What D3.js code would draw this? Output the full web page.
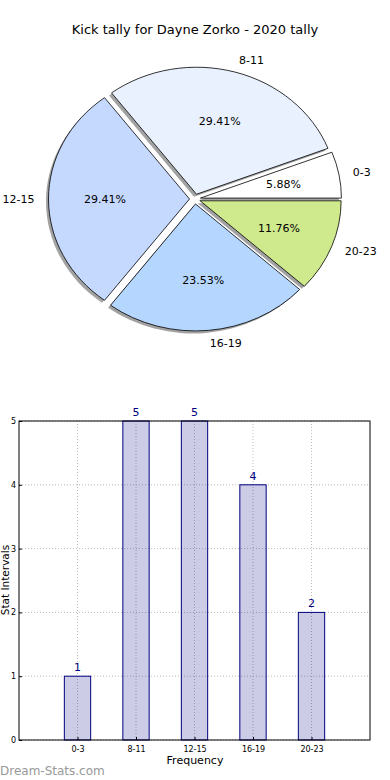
<!DOCTYPE html>
<html>
<head>
<meta charset="utf-8">
<script src="https://cdn.jsdelivr.net/npm/d3@7"></script>
<style>
  body { margin: 0; background: #fff; }
  svg { display: block; font-family: "DejaVu Sans", sans-serif; }
</style>
</head>
<body>
<div id="chart"></div>
<script>
// data
const categories = ["0-3", "8-11", "12-15", "16-19", "20-23"];
const counts = [1, 5, 5, 4, 2];
const sliceColours = ["#ffffff", "#e9f1ff", "#c5d9ff", "#b4d6ff", "#cfea8c"];
const yTicks = [0, 1, 2, 3, 4, 5];

const width = 390, height = 780;
const svg = d3.select("#chart").append("svg")
    .attr("width", width)
    .attr("height", height);

// title
svg.append("text")
    .attr("x", 195).attr("y", 34)
    .attr("text-anchor", "middle")
    .style("font-size", "13px")
    .text("Kick tally for Dayne Zorko - 2020 tally");

// ---- pie ----
const cx = 195, cy = 199;
const R = 141, ry = 127;
const sy = ry / R;
const explode = 5.5;
const total = d3.sum(counts);

const pie = d3.pie().sort(null)
    .startAngle(Math.PI / 2)
    .endAngle(Math.PI / 2 - 2 * Math.PI);
const arcs = pie(counts);
const arc = d3.arc().innerRadius(0).outerRadius(R);

function midOf(d) { return (d.startAngle + d.endAngle) / 2; }

const pieG = svg.append("g")
    .attr("transform", "translate(" + cx + "," + cy + ") scale(1," + sy + ")");

// shadows first
pieG.selectAll("path.shadow")
    .data(arcs)
    .enter()
    .append("path")
      .attr("class", "shadow")
      .attr("d", arc)
      .attr("transform", function (d) {
        const m = midOf(d);
        return "translate(" + (Math.sin(m) * explode - 2.5) + "," + (-Math.cos(m) * explode + 2.5 / sy) + ")";
      })
      .style("fill", "#555")
      .style("opacity", 0.55);

pieG.selectAll("path.slice")
    .data(arcs)
    .enter()
    .append("path")
      .attr("class", "slice")
      .attr("d", arc)
      .attr("transform", function (d) {
        const m = midOf(d);
        return "translate(" + (Math.sin(m) * explode) + "," + (-Math.cos(m) * explode) + ")";
      })
      .style("fill", function (d, i) { return sliceColours[i]; })
      .style("stroke", "#000")
      .style("stroke-width", 0.8)
      .attr("vector-effect", "non-scaling-stroke");

// outer labels
svg.append("g").selectAll("text")
    .data(arcs)
    .enter()
    .append("text")
      .attr("x", function (d) { return cx + Math.sin(midOf(d)) * (1.1 * R + explode); })
      .attr("y", function (d) { return cy - Math.cos(midOf(d)) * (1.1 * R + explode) * sy; })
      .attr("dy", "0.35em")
      .attr("text-anchor", function (d) { return Math.sin(midOf(d)) > 0 ? "start" : "end"; })
      .style("font-size", "11px")
      .text(function (d, i) { return categories[i]; });

// percentage labels
svg.append("g").selectAll("text")
    .data(arcs)
    .enter()
    .append("text")
      .attr("x", function (d) { return cx + Math.sin(midOf(d)) * (0.6 * R + explode); })
      .attr("y", function (d) { return cy - Math.cos(midOf(d)) * (0.6 * R + explode) * sy; })
      .attr("dy", "0.35em")
      .attr("text-anchor", "middle")
      .style("font-size", "11px")
      .text(function (d) { return (d.value / total * 100).toFixed(2) + "%"; });

// ---- bar chart ----
const plotLeft = 19, plotRight = 370, plotTop = 421, plotBottom = 740;
const x = d3.scaleLinear().domain([-1, 5]).range([plotLeft, plotRight]);
const y = d3.scaleLinear().domain([0, 5]).range([plotBottom, plotTop]);
const barW = 0.45;

const bar = svg.append("g");

// grid
bar.append("g").selectAll("line")
    .data(yTicks)
    .enter()
    .append("line")
      .attr("x1", plotLeft).attr("x2", plotRight)
      .attr("y1", function (d) { return y(d); })
      .attr("y2", function (d) { return y(d); })
      .style("stroke", "#bbb")
      .style("stroke-width", 1)
      .style("stroke-dasharray", "1,2");
bar.append("g").selectAll("line")
    .data(categories)
    .enter()
    .append("line")
      .attr("x1", function (d, i) { return x(i); })
      .attr("x2", function (d, i) { return x(i); })
      .attr("y1", plotTop).attr("y2", plotBottom)
      .style("stroke", "#bbb")
      .style("stroke-width", 1)
      .style("stroke-dasharray", "1,2");

// bars
bar.append("g").selectAll("rect")
    .data(counts)
    .enter()
    .append("rect")
      .attr("x", function (d, i) { return x(i - barW / 2); })
      .attr("width", x(barW) - x(0))
      .attr("y", function (d) { return y(d); })
      .attr("height", function (d) { return plotBottom - y(d); })
      .style("fill", "#000080")
      .style("fill-opacity", 0.2)
      .style("stroke", "#000080")
      .style("stroke-width", 1);

// value labels
bar.append("g").selectAll("text")
    .data(counts)
    .enter()
    .append("text")
      .attr("x", function (d, i) { return x(i); })
      .attr("y", function (d) { return y(d) - 5; })
      .attr("text-anchor", "middle")
      .style("font-size", "11px")
      .style("fill", "#000080")
      .text(function (d) { return d; });

// frame
bar.append("rect")
    .attr("x", plotLeft).attr("y", plotTop)
    .attr("width", plotRight - plotLeft).attr("height", plotBottom - plotTop)
    .style("fill", "none")
    .style("stroke", "#000")
    .style("stroke-width", 1);

// axes (ticks inside)
const yAxis = bar.append("g")
    .attr("transform", "translate(" + plotLeft + ",0)")
    .call(d3.axisLeft(y).tickValues(yTicks).tickFormat(d3.format("d"))
      .tickSize(-3).tickPadding(3));
const xAxis = bar.append("g")
    .attr("transform", "translate(0," + plotBottom + ")")
    .call(d3.axisBottom(x).tickValues(d3.range(categories.length))
      .tickFormat(function (i) { return categories[i]; })
      .tickSize(-3).tickPadding(6));
[yAxis, xAxis].forEach(function (a) {
  a.select(".domain").remove();
  a.selectAll("text").style("font-size", "8px").style("font-family", "DejaVu Sans, sans-serif").style("fill", "#000");
  a.selectAll("line").style("stroke", "#000");
});

// axis labels
svg.append("text")
    .attr("x", 195).attr("y", 764)
    .attr("text-anchor", "middle")
    .style("font-size", "11px")
    .text("Frequency");
svg.append("text")
    .attr("transform", "translate(9,580) rotate(-90)")
    .attr("text-anchor", "middle")
    .style("font-size", "10.5px")
    .text("Stat Intervals");

// watermark
svg.append("text")
    .attr("x", 0).attr("y", 775)
    .style("font-size", "12px")
    .style("fill", "#999")
    .text("Dream-Stats.com");
</script>
</body>
</html>
